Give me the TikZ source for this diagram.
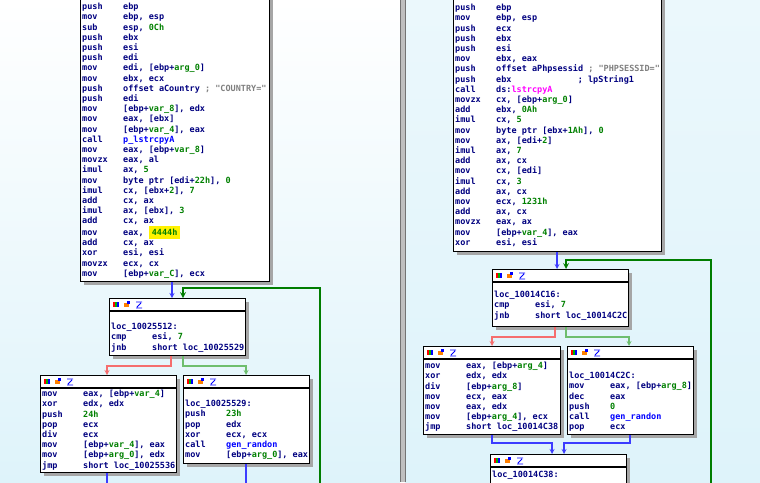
\documentclass[tikz,border=0pt]{standalone}
\usepackage{fontspec}
\setmonofont{DejaVu Sans Mono}
\usetikzlibrary{arrows}
\definecolor{idatxt}{RGB}{0,0,128}
\definecolor{idanum}{RGB}{0,128,0}
\definecolor{idaname}{RGB}{0,0,255}
\definecolor{idacmt}{RGB}{128,128,128}
\definecolor{idamag}{RGB}{255,0,255}
\definecolor{panelbot}{RGB}{222,243,250}
\definecolor{jred}{RGB}{245,110,110}
\definecolor{jgreen}{RGB}{110,190,110}
\definecolor{jgreendk}{RGB}{0,125,0}
\definecolor{jblue}{RGB}{60,60,255}
\tikzstyle{blk} = [rectangle, draw=black, line width=1.2pt, fill=white, inner sep=0pt]
\tikzstyle{shadow} = [fill=black!35]
\tikzstyle{code} = [anchor=north west, inner sep=0pt, align=left, text=idatxt, font=\ttfamily\bfseries\fontsize{8.5}{10.2}\selectfont]
\tikzstyle{flowb} = [line width=1.2pt, jblue, ->, >=stealth]
\tikzstyle{flowr} = [line width=1.2pt, jred, ->, >=stealth]
\tikzstyle{flowg} = [line width=1.2pt, jgreen, ->, >=stealth]
\tikzstyle{flowgd} = [line width=1.6pt, jgreendk, ->, >=stealth]
\newcommand{\ins}[2]{\makebox[41pt][l]{#1}#2}
\newcommand{\nv}[1]{\textcolor{idanum}{#1}}
\newcommand{\nm}[1]{\textcolor{idaname}{#1}}
\newcommand{\cm}[1]{\textcolor{idacmt}{#1}}
% block: name, x, y, width, height
\newcommand{\idablock}[5]{
  \fill[shadow] (#2+4,#3+4) rectangle ++(#4,#5);
  \node (#1) [blk, minimum width=#4pt, minimum height=#5pt, anchor=north west] at (#2,#3) {};
  \draw[line width=1.2pt] (#2,#3+13) -- ++(#4,0);
  \fill[red] (#2+4,#3+4) rectangle ++(2,5);
  \fill[green!70!black] (#2+6,#3+4) rectangle ++(2,5);
  \fill[blue] (#2+8,#3+4) rectangle ++(2,5);
  \fill[orange] (#2+15,#3+5) rectangle ++(5,4);
  \fill[blue] (#2+18,#3+3) rectangle ++(3,3);
  \draw[blue, line width=0.8pt] (#2+27,#3+4) -- ++(6,0) (#2+27,#3+10) -- ++(6,0) (#2+28,#3+9) -- ++(4,-4);
}
\begin{document}
\begin{tikzpicture}[x=1pt, y=-1pt]
  \useasboundingbox (0,0) rectangle (760,482);
  % panels
  \shade[top color=white, bottom color=panelbot] (0,0) rectangle (400,482);
  \shade[top color=panelbot!60, bottom color=panelbot] (405,0) rectangle (760,482);
  \fill[black!25] (400,0) rectangle (405,482);
  \draw[black!55] (400,0) -- (400,482) (405,0) -- (405,482);

  % left graph
  \fill[shadow] (84,-5) rectangle (273,285);
  \node (blkA) [blk, minimum width=189pt, minimum height=286pt, anchor=north west] at (80,-5) {};
  \node (txtA) [code] at (82,3) {\ins{push}{ebp}\\ \ins{mov}{ebp, esp}\\ \ins{sub}{esp, \nv{0Ch}}\\ \ins{push}{ebx}\\ \ins{push}{esi}\\ \ins{push}{edi}\\ \ins{mov}{edi, [ebp+\nv{arg\_0}]}\\ \ins{mov}{ebx, ecx}\\ \ins{push}{offset aCountry \cm{; "COUNTRY="}}\\ \ins{push}{edi}\\ \ins{mov}{[ebp+\nv{var\_8}], edx}\\ \ins{mov}{eax, [ebx]}\\ \ins{mov}{[ebp+\nv{var\_4}], eax}\\ \ins{call}{\nm{p\_lstrcpyA}}\\ \ins{mov}{eax, [ebp+\nv{var\_8}]}\\ \ins{movzx}{eax, al}\\ \ins{imul}{ax, \nv{5}}\\ \ins{mov}{byte ptr [edi+\nv{22h}], \nv{0}}\\ \ins{imul}{cx, [ebx+\nv{2}], \nv{7}}\\ \ins{add}{cx, ax}\\ \ins{imul}{ax, [ebx], \nv{3}}\\ \ins{add}{cx, ax}\\ \ins{mov}{eax, \colorbox{yellow}{\nv{4444h}}}\\ \ins{add}{cx, ax}\\ \ins{xor}{esi, esi}\\ \ins{movzx}{ecx, cx}\\ \ins{mov}{[ebp+\nv{var\_C}], ecx}};

  \idablock{blkB}{109}{298}{136}{57}
  \node (txtB) [code] at (111,323) {loc\_10025512:\\ \ins{cmp}{esi, \nv{7}}\\ \ins{jnb}{short loc\_10025529}};
  \idablock{blkC}{40}{375}{136}{97}
  \node (txtC) [code] at (42,390) {\ins{mov}{eax, [ebp+\nv{var\_4}]}\\ \ins{xor}{edx, edx}\\ \ins{push}{\nv{24h}}\\ \ins{pop}{ecx}\\ \ins{div}{ecx}\\ \ins{mov}{[ebp+\nv{var\_4}], eax}\\ \ins{mov}{[ebp+\nv{arg\_0}], edx}\\ \ins{jmp}{short loc\_10025536}};
  \idablock{blkD}{183}{375}{126}{88}
  \node (txtD) [code] at (185,400) {loc\_10025529:\\ \ins{push}{\nv{23h}}\\ \ins{pop}{edx}\\ \ins{xor}{ecx, ecx}\\ \ins{call}{\nm{gen\_randon}}\\ \ins{mov}{[ebp+\nv{arg\_0}], eax}};

  \coordinate (loopL) at (320,490);
  \draw[flowb] (blkA.south -| 172,0) -- (blkB.north -| 172,0);
  \draw[flowgd] (loopL) -- (320,288) -- (183,288) -- (blkB.north -| 183,0);
  \draw[flowr] (blkB.south -| 171,0) -- (171,366) -- (107,366) -- (blkC.north -| 107,0);
  \draw[flowg] (blkB.south -| 183,0) -- (183,366) -- (246,366) -- (blkD.north -| 246,0);
  \draw[jblue, line width=1.2pt] (blkC.south -| 107,0) -- (107,490);
  \draw[jblue, line width=1.2pt] (blkD.south -| 246,0) -- (246,490);

  % right graph
  \fill[shadow] (457,-5) rectangle (665,255);
  \node (blkE) [blk, minimum width=208pt, minimum height=256pt, anchor=north west] at (453,-5) {};
  \node (txtE) [code] at (455,4) {\ins{push}{ebp}\\ \ins{mov}{ebp, esp}\\ \ins{push}{ecx}\\ \ins{push}{ebx}\\ \ins{push}{esi}\\ \ins{mov}{ebx, eax}\\ \ins{push}{offset aPhpsessid \cm{; "PHPSESSID="}}\\ \ins{push}{\makebox[81.6pt][l]{ebx}; lpString1}\\ \ins{call}{ds:\textcolor{idamag}{lstrcpyA}}\\ \ins{movzx}{cx, [ebp+\nv{arg\_0}]}\\ \ins{add}{ebx, \nv{0Ah}}\\ \ins{imul}{cx, \nv{5}}\\ \ins{mov}{byte ptr [ebx+\nv{1Ah}], \nv{0}}\\ \ins{mov}{ax, [edi+\nv{2}]}\\ \ins{imul}{ax, \nv{7}}\\ \ins{add}{ax, cx}\\ \ins{mov}{cx, [edi]}\\ \ins{imul}{cx, \nv{3}}\\ \ins{add}{ax, cx}\\ \ins{mov}{ecx, \nv{1231h}}\\ \ins{add}{ax, cx}\\ \ins{movzx}{eax, ax}\\ \ins{mov}{[ebp+\nv{var\_4}], eax}\\ \ins{xor}{esi, esi}};

  \idablock{blkF}{492}{269}{136}{57}
  \node (txtF) [code] at (494,291) {loc\_10014C16:\\ \ins{cmp}{esi, \nv{7}}\\ \ins{jnb}{short loc\_10014C2C}};
  \idablock{blkG}{423}{346}{137}{88}
  \node (txtG) [code] at (425,362) {\ins{mov}{eax, [ebp+\nv{arg\_4}]}\\ \ins{xor}{edx, edx}\\ \ins{div}{[ebp+\nv{arg\_8}]}\\ \ins{mov}{ecx, eax}\\ \ins{mov}{eax, edx}\\ \ins{mov}{[ebp+\nv{arg\_4}], ecx}\\ \ins{jmp}{short loc\_10014C38}};
  \idablock{blkH}{567}{346}{126}{88}
  \node (txtH) [code] at (569,372) {loc\_10014C2C:\\ \ins{mov}{eax, [ebp+\nv{arg\_8}]}\\ \ins{dec}{eax}\\ \ins{push}{\nv{0}}\\ \ins{call}{\nm{gen\_randon}}\\ \ins{pop}{ecx}};
  \idablock{blkI}{490}{454}{136}{60}
  \node (txtI) [code] at (492,471) {loc\_10014C38:};

  \coordinate (loopR) at (711,490);
  \draw[flowb] (blkE.south -| 557,0) -- (blkF.north -| 557,0);
  \draw[flowgd] (loopR) -- (711,260) -- (566,260) -- (blkF.north -| 566,0);
  \draw[flowr] (blkF.south -| 555,0) -- (555,337) -- (492,337) -- (blkG.north -| 492,0);
  \draw[flowg] (blkF.south -| 566,0) -- (566,337) -- (629,337) -- (blkH.north -| 629,0);
  \draw[flowb] (blkG.south -| 492,0) -- (492,443) -- (552,443) -- (blkI.north -| 552,0);
  \draw[flowb] (blkH.south -| 630,0) -- (630,443) -- (564,443) -- (blkI.north -| 564,0);
\end{tikzpicture}
\end{document}
